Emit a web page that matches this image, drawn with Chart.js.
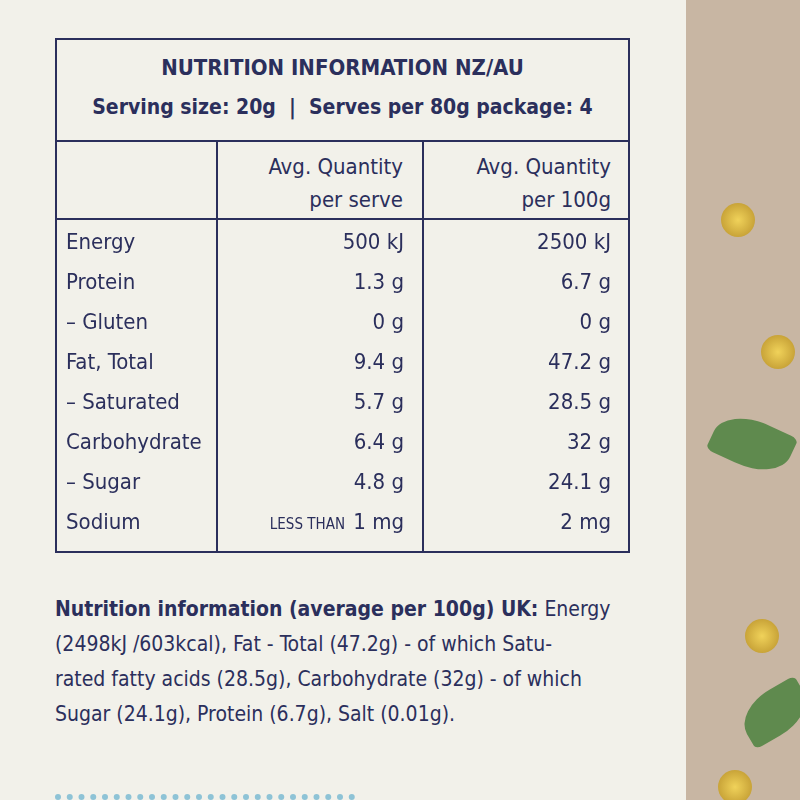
<!DOCTYPE html>
<html><head><meta charset="utf-8">
<script src="https://cdn.jsdelivr.net/npm/chart.js@4"></script>
<style>
body{margin:0;width:800px;height:800px;overflow:hidden;background:#f2f1ea;font-family:"DejaVu Sans Condensed",sans-serif;color:#2b2f5c;position:relative}
.strip{position:absolute;left:686px;top:0;width:114px;height:800px;background:#c8b6a3}
.dot{position:absolute;width:34px;height:34px;border-radius:50%;background:radial-gradient(#f0d25a,#b8902a)}
.box{position:absolute;left:55px;top:38px;width:571px;height:511px;border:2px solid #2b2f5c}
.t{position:absolute;font-size:22px;white-space:nowrap}
.b{font-weight:bold}
.hl{position:absolute;left:0;width:571px;border-top:2px solid #2b2f5c}
.vl{position:absolute;top:101px;height:410px;border-left:2px solid #2b2f5c}
#wrap{position:absolute;left:1px;top:183px;width:569px;height:320px}
.foot{position:absolute;left:55px;top:592px;font-size:21px;line-height:35px;width:620px;white-space:nowrap}
.dash{position:absolute;top:794px;height:6px;border-top:6px dotted #8ec3d6;left:55px;width:300px}
</style></head><body>
<div class="strip"></div>
<div class="dot" style="left:721px;top:203px"></div>
<div class="dot" style="left:761px;top:335px"></div>
<div class="dot" style="left:745px;top:619px"></div>
<div class="dot" style="left:718px;top:770px"></div>
<div style="position:absolute;left:712px;top:420px;width:80px;height:48px;background:#5f8a4e;border-radius:60% 10% 60% 10%;transform:rotate(25deg)"></div>
<div style="position:absolute;left:740px;top:690px;width:70px;height:45px;background:#5f8a4e;border-radius:60% 10% 60% 10%;transform:rotate(-30deg)"></div>
<div class="dash"></div>
<div class="box">
  <div class="t b" style="left:0;width:571px;text-align:center;top:15px">NUTRITION INFORMATION NZ/AU</div>
  <div class="t b" style="left:0;width:571px;text-align:center;top:55px;font-size:21px">Serving size: 20g &nbsp;|&nbsp; Serves per 80g package: 4</div>
  <div class="hl" style="top:100px"></div>
  <div class="hl" style="top:178px"></div>
  <div class="vl" style="left:159px"></div>
  <div class="vl" style="left:365px"></div>
  <div class="t" style="right:225px;top:110px;text-align:right;line-height:33px">Avg. Quantity<br>per serve</div>
  <div class="t" style="right:17px;top:110px;text-align:right;line-height:33px">Avg. Quantity<br>per 100g</div>
  <div id="wrap"><canvas id="c"></canvas></div>
</div>
<div class="foot"><b>Nutrition information (average per 100g) UK:</b> Energy<br>(2498kJ /603kcal), Fat - Total (47.2g) - of which Satu-<br>rated fatty acids (28.5g), Carbohydrate (32g) - of which<br>Sugar (24.1g), Protein (6.7g), Salt (0.01g).</div>
<script>
const nutrients = ["Energy", "Protein", "– Gluten", "Fat, Total", "– Saturated", "Carbohydrate", "– Sugar", "Sodium"];
const perServe = ["500 kJ", "1.3 g", "0 g", "9.4 g", "5.7 g", "6.4 g", "4.8 g", "1 mg"];
const per100g = ["2500 kJ", "6.7 g", "0 g", "47.2 g", "28.5 g", "32 g", "24.1 g", "2 mg"];
const prefixes = ["", "", "", "", "", "", "", "LESS THAN "];

const font = '"DejaVu Sans Condensed",sans-serif';
const tablePlugin = {
  id: 'table',
  afterDraw(chart) {
    const ctx = chart.ctx, y = chart.scales.y;
    ctx.save();
    ctx.fillStyle = '#2b2f5c';
    ctx.textBaseline = 'middle';
    nutrients.forEach((n, i) => {
      const py = y.getPixelForValue(i);
      ctx.font = '22px ' + font;
      ctx.textAlign = 'left';
      ctx.fillText(n, 8, py);
      ctx.textAlign = 'right';
      ctx.fillText(perServe[i], 346, py);
      ctx.fillText(per100g[i], 553, py);
      if (prefixes[i]) {
        const w = ctx.measureText(perServe[i]).width;
        ctx.font = '15px ' + font;
        ctx.fillText(prefixes[i], 346 - w - 4, py + 2);
      }
    });
    ctx.restore();
  }
};

new Chart(document.getElementById('c'), {
  type: 'bar',
  data: { labels: nutrients, datasets: [{ data: nutrients.map(() => 0), backgroundColor: 'transparent' }] },
  options: {
    indexAxis: 'y', responsive: true, maintainAspectRatio: false, animation: false,
    layout: { padding: 0 },
    plugins: { legend: { display: false }, tooltip: { enabled: false } },
    scales: { y: { display: false }, x: { display: false, min: 0, max: 1 } }
  },
  plugins: [tablePlugin]
});
</script>
</body></html>
